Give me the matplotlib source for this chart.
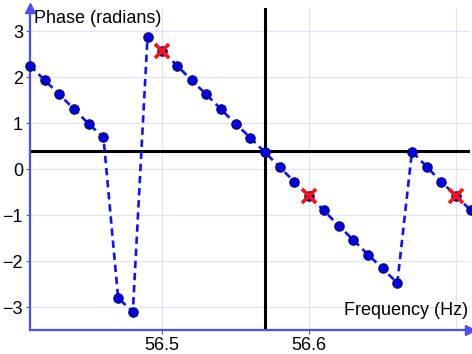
import matplotlib.pyplot as plt
import numpy as np

plt.rcParams['font.family'] = ['Liberation Sans', 'DejaVu Sans']

# phase of each frequency sample
freq = [56.41, 56.42, 56.43, 56.44, 56.45, 56.46, 56.47, 56.48, 56.49, 56.50,
        56.51, 56.52, 56.53, 56.54, 56.55, 56.56, 56.57, 56.58, 56.59, 56.60,
        56.61, 56.62, 56.63, 56.64, 56.65, 56.66, 56.67, 56.68, 56.69, 56.70,
        56.71]
phase = [2.25, 1.93, 1.62, 1.30, 0.98, 0.69, -2.81, -3.10, 2.88, 2.56,
         2.25, 1.93, 1.62, 1.30, 0.98, 0.68, 0.36, 0.04, -0.28, -0.58,
         -0.90, -1.23, -1.54, -1.86, -2.16, -2.48, 0.38, 0.05, -0.28, -0.58,
         -0.90]

# highlighted samples
mark_freq = [56.50, 56.60, 56.70]
mark_phase = [2.56, -0.58, -0.58]

# reference lines
h_level = 0.40
v_freq = 56.57

x_ticks = [56.5, 56.6]
y_ticks = [-3, -2, -1, 0, 1, 2, 3]

axis_blue = '#4d4dff'

fig = plt.figure(figsize=(4.72, 3.54), dpi=100)
ax = fig.add_axes([30 / 472, 24 / 354, 440 / 472, 322 / 354])
ax.set_xlim(56.41, 56.7095)
ax.set_ylim(-3.5, 3.5)

ax.set_xticks(x_ticks)
ax.set_xticks([56.7], minor=True)
ax.set_yticks(y_ticks)
ax.grid(True, which='both', color='#e0e0fa', linewidth=0.8)
ax.set_axisbelow(True)

for s in ['top', 'right']:
    ax.spines[s].set_visible(False)
for s in ['left', 'bottom']:
    ax.spines[s].set_color(axis_blue)
    ax.spines[s].set_linewidth(1.6)

ax.tick_params(which='both', length=3, color=axis_blue, labelsize=13, pad=2)
ax.tick_params(axis='x', which='minor', length=0)

# arrow heads on the axes
ax.plot(1, 0, '>', color=axis_blue, ms=7, transform=ax.transAxes, clip_on=False)
ax.plot(0, 1, '^', color=axis_blue, ms=7, transform=ax.transAxes, clip_on=False)

ax.axhline(h_level, color='black', linewidth=2.2, zorder=2)
ax.axvline(v_freq, color='black', linewidth=2.2, zorder=2)

ax.plot(freq, phase, color='#1010ff', linestyle=(0, (2.8, 1.8)), linewidth=1.9,
        marker='o', markersize=6.8, markerfacecolor='#0000ee',
        markeredgecolor='#101050', markeredgewidth=0.8, zorder=3,
        clip_on=False)
ax.plot(mark_freq, mark_phase, linestyle='none', marker='x', markersize=10,
        markeredgewidth=2.6, color='#ff1010', zorder=4, clip_on=False)

ax.text(0.01, 0.995, 'Phase (radians)', transform=ax.transAxes, fontsize=13,
        ha='left', va='top')
ax.text(0.995, 0.035, 'Frequency (Hz)', transform=ax.transAxes, fontsize=13,
        ha='right', va='bottom')

fig.savefig('out.png', dpi=100)
